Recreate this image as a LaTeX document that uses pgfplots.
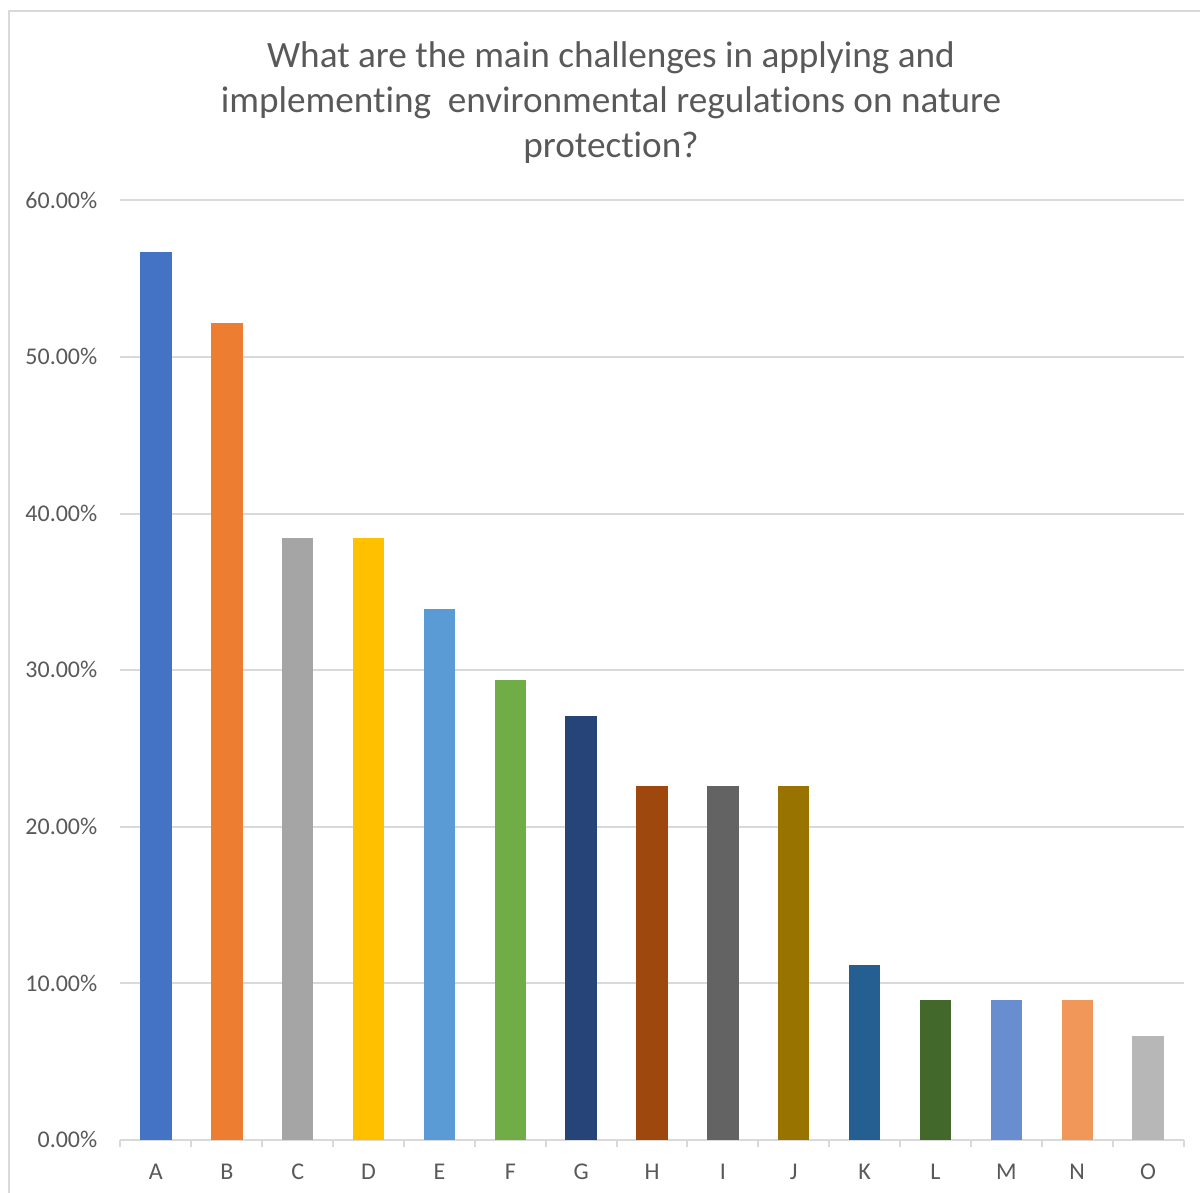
\documentclass[border=0pt]{standalone}
\usepackage{pgfplots}
\pgfplotsset{compat=1.18}
\usepackage{fontspec}
\setmainfont{Carlito}[Ligatures=NoCommon]
\definecolor{gridc}{HTML}{D9D9D9}
\definecolor{txt}{HTML}{595959}
\definecolor{c1}{HTML}{4472C4}
\definecolor{c2}{HTML}{ED7D31}
\definecolor{c3}{HTML}{A5A5A5}
\definecolor{c4}{HTML}{FFC000}
\definecolor{c5}{HTML}{5B9BD5}
\definecolor{c6}{HTML}{70AD47}
\definecolor{c7}{HTML}{264478}
\definecolor{c8}{HTML}{9E480E}
\definecolor{c9}{HTML}{636363}
\definecolor{c10}{HTML}{997300}
\definecolor{c11}{HTML}{255E91}
\definecolor{c12}{HTML}{43682B}
\definecolor{c13}{HTML}{698ED0}
\definecolor{c14}{HTML}{F1975A}
\definecolor{c15}{HTML}{B7B7B7}
\begin{document}
\begin{tikzpicture}[x=1pt,y=1pt]
\path[use as bounding box] (0,0) rectangle (600,596.5);
\draw[gridc, line width=1pt] (4.5,-5) -- (4.5,591) -- (605,591);
\begin{scope}[txt, font=\fontsize{18.6}{22.5}\selectfont]
\node[anchor=base, inner sep=0pt] at (305.5,562.75) {What are the main challenges in applying and};
\node[anchor=base, inner sep=0pt] at (305.5,540.25) {implementing\ \ environmental regulations on nature};
\node[anchor=base, inner sep=0pt] at (305.5,517.75) {protection?};
\end{scope}
\begin{axis}[
  at={(60.25pt,26.5pt)}, anchor=south west,
  scale only axis, width=531.5pt, height=469.75pt,
  xmin=-0.5, xmax=14.5, ymin=0, ymax=60,
  ybar, bar width=15.7pt, bar shift=0pt,
  axis x line*=bottom, axis y line*=left,
  x axis line style={gridc, line width=1pt},
  y axis line style={draw=none},
  ymajorgrids, grid style={gridc, line width=1pt},
  xtick={0,...,14},
  xticklabels={A,B,C,D,E,F,G,H,I,J,K,L,M,N,O},
  minor xtick={-0.5,0.5,...,14.5},
  major tick length=0pt, minor tick length=3.5pt,
  tick align=outside,
  tick style={gridc, line width=1pt},
  ytick={0,10,20,30,40,50,60},
  yticklabels={0.00\%,10.00\%,20.00\%,30.00\%,40.00\%,50.00\%,60.00\%},
  ticklabel style={txt, font=\fontsize{12}{14}\selectfont, inner sep=0pt},
  xticklabel style={anchor=base, yshift=-19.75pt},
  yticklabel style={anchor=base east, xshift=-11.4pt, yshift=-3.8pt},
  every axis plot/.append style={draw=none},
]
\addplot[fill=c1] coordinates {(0,56.7)};
\addplot[fill=c2] coordinates {(1,52.15)};
\addplot[fill=c3] coordinates {(2,38.45)};
\addplot[fill=c4] coordinates {(3,38.45)};
\addplot[fill=c5] coordinates {(4,33.9)};
\addplot[fill=c6] coordinates {(5,29.4)};
\addplot[fill=c7] coordinates {(6,27.1)};
\addplot[fill=c8] coordinates {(7,22.6)};
\addplot[fill=c9] coordinates {(8,22.6)};
\addplot[fill=c10] coordinates {(9,22.6)};
\addplot[fill=c11] coordinates {(10,11.2)};
\addplot[fill=c12] coordinates {(11,8.95)};
\addplot[fill=c13] coordinates {(12,8.95)};
\addplot[fill=c14] coordinates {(13,8.95)};
\addplot[fill=c15] coordinates {(14,6.65)};
\end{axis}
\end{tikzpicture}
\end{document}
